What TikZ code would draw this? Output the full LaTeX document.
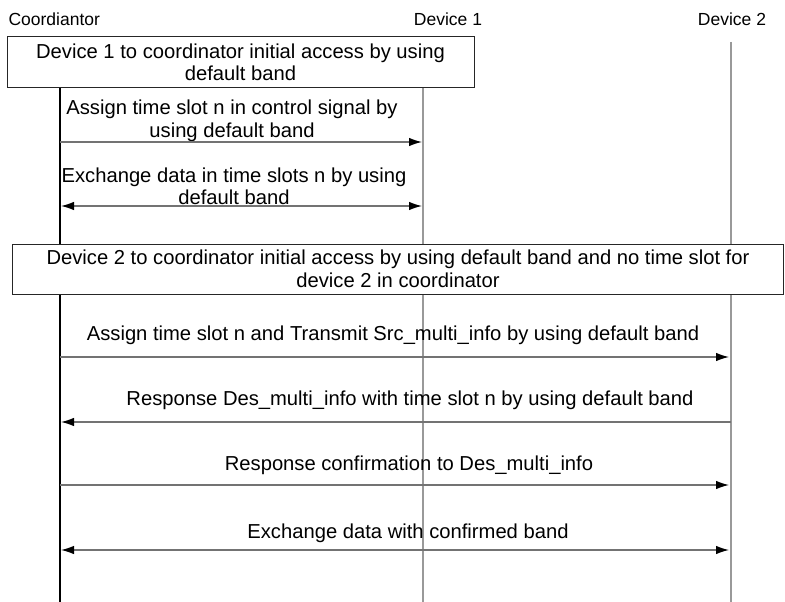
\documentclass[tikz,border=0pt]{standalone}
\usepackage{fontspec}
\setmainfont{Liberation Sans}
\usetikzlibrary{arrows.meta}

\begin{document}
\begin{tikzpicture}[x=1pt,y=-1pt,
  font=\fontsize{20.2}{22.5}\selectfont,
  head/.style={font=\fontsize{17.5}{20}\selectfont},
  life/.style={draw=black!40,line width=1.1pt},
  msg/.style={draw=black!55,line width=1.2pt,-{Latex[length=13pt,width=8.5pt,black]}},
  both/.style={msg,{Latex[length=13pt,width=8.5pt,black]}-{Latex[length=13pt,width=8.5pt,black]}},
  note/.style={draw=black!85,fill=white,line width=1pt,align=center,inner sep=0pt}]
\useasboundingbox (0,0) rectangle (785,602);
% ---- heads
\node[head,anchor=west] (coord) at (5,19) {Coordiantor};
\node[head] (dev1) at (448,19) {Device 1};
\node[head] (dev2) at (732,19) {Device 2};
% ---- lifelines
\coordinate (ctop) at (60,88);   \coordinate (cbot) at (60,602);
\coordinate (d1top) at (423,88); \coordinate (d1bot) at (423,602);
\coordinate (d2top) at (731,42); \coordinate (d2bot) at (731,602);
\draw[life] (d1top) -- (d1bot);
\draw[life] (d2top) -- (d2bot);
\draw[line width=1.2pt] (ctop) -- (cbot);
% ---- device 1 access
\node[note,minimum width=467pt,minimum height=51pt] (acc1) at (240.5,62.5)
  {Device 1 to coordinator initial access by using\\default band};
\coordinate (a1) at (60,142); \coordinate (b1) at (422,142);
\node (m1) at (232,121) [align=center] {Assign time slot n in control signal by\\using default band};
\draw[msg] (a1) -- (b1);
\coordinate (a2) at (61,206); \coordinate (b2) at (422,206);
\node (m2) at (234,186.5) [align=center] {Exchange data in time slots n by using\\default band};
\draw[both] (a2) -- (b2);
% ---- device 2 access
\node[note,minimum width=771pt,minimum height=50pt] (acc2) at (398,269)
  {Device 2 to coordinator initial access by using default band and no time slot for\\device 2 in coordinator};
\coordinate (a3) at (60,357); \coordinate (b3) at (729,357);
\node (m3) at (393,335) {Assign time slot n and Transmit Src\_multi\_info by using default band};
\draw[msg] (a3) -- (b3);
\coordinate (a4) at (61,422); \coordinate (b4) at (731,422);
\node (m4) at (410,400) {Response Des\_multi\_info with time slot n by using default band};
\draw[msg] (b4) -- (a4);
\coordinate (a5) at (60,485); \coordinate (b5) at (729,485);
\node (m5) at (409,465) {Response confirmation to Des\_multi\_info};
\draw[msg] (a5) -- (b5);
\coordinate (a6) at (61,550); \coordinate (b6) at (729,550);
\node (m6) at (408,533) {Exchange data with confirmed band};
\draw[both] (a6) -- (b6);
\end{tikzpicture}
\end{document}
